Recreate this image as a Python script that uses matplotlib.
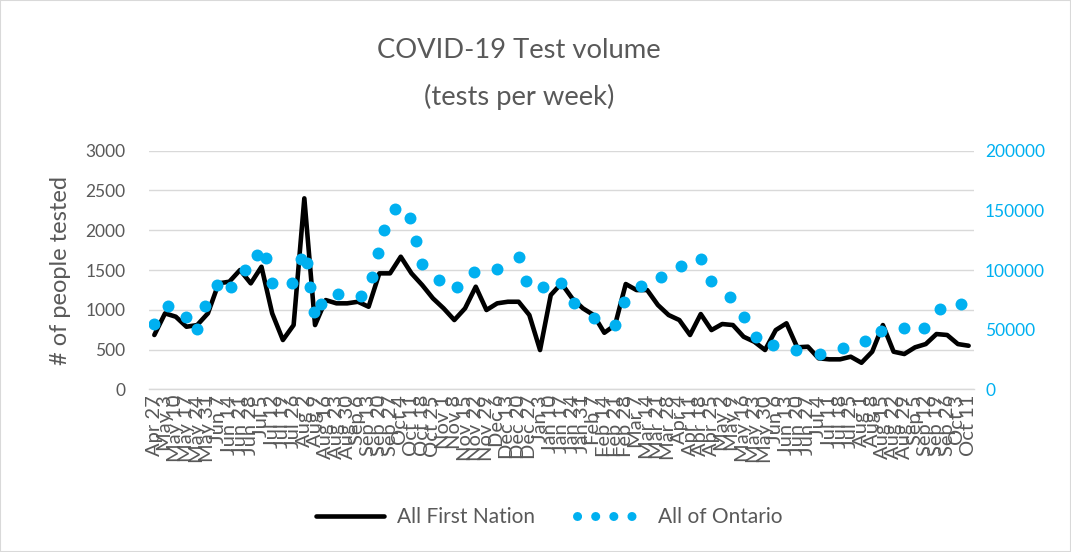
import matplotlib
matplotlib.use("Agg")
import matplotlib.pyplot as plt
import pandas as pd
from matplotlib.lines import Line2D
from matplotlib.patches import Rectangle

# ---------------- data ----------------
week_labels = [
    "Apr 27", "May 3", "May 10", "May 17", "May 24", "May 31", "Jun 7", "Jun 14",
    "Jun 21", "Jun 28", "Jul 5", "Jul 12", "Jul 19", "Jul 26", "Aug 2", "Aug 9",
    "Aug 16", "Aug 23", "Aug 30", "Sep 6", "Sep 13", "Sep 20", "Sep 27", "Oct 4",
    "Oct 11", "Oct 18", "Oct 25", "Nov 1", "Nov 8", "Nov 15", "Nov 22", "Nov 29",
    "Dec 6", "Dec 13", "Dec 20", "Dec 27", "Jan 3", "Jan 10", "Jan 17", "Jan 24",
    "Jan 31", "Feb 7", "Feb 14", "Feb 21", "Feb 28", "Mar 7", "Mar 14", "Mar 21",
    "Mar 28", "Apr 4", "Apr 11", "Apr 18", "Apr 25", "May 2", "May 9", "May 16",
    "May 23", "May 30", "Jun 6", "Jun 13", "Jun 20", "Jun 27", "Jul 4", "Jul 11",
    "Jul 18", "Jul 25", "Aug 1", "Aug 8", "Aug 15", "Aug 22", "Aug 29", "Sep 5",
    "Sep 12", "Sep 19", "Sep 26", "Oct 3", "Oct 11",
]

first_nation = [
    683, 955, 913, 787, 808, 955, 1332, 1353, 1500, 1332,
    1541, 955, 620, 808, 2401, 808, 1122, 1081, 1081, 1101,
    1038, 1458, 1458, 1667, 1458, 1311, 1144, 1018, 871, 1018,
    1290, 997, 1081, 1101, 1101, 934, 494, 1185, 1332, 1144,
    1018, 934, 711, 808, 1324, 1248, 1248, 1060, 934, 871,
    683, 946, 745, 821, 808, 661, 598, 494, 745, 830,
    528, 536, 390, 377, 377, 410, 334, 473, 808, 473,
    444, 528, 569, 695, 683, 569, 548,
]

series_start = "2020-04-27"

ontario_dates = [
    "2020-04-27", "2020-05-06", "2020-05-18", "2020-05-25", "2020-05-30", "2020-06-07",
    "2020-06-16", "2020-06-25", "2020-07-03", "2020-07-09", "2020-07-13", "2020-07-26",
    "2020-08-01", "2020-08-05", "2020-08-07", "2020-08-09", "2020-08-14", "2020-08-25",
    "2020-09-09", "2020-09-16", "2020-09-20", "2020-09-24", "2020-10-01", "2020-10-11",
    "2020-10-15", "2020-10-19", "2020-10-30", "2020-11-11", "2020-11-22", "2020-12-07",
    "2020-12-21", "2020-12-26", "2021-01-06", "2021-01-18", "2021-01-26", "2021-02-08",
    "2021-02-22", "2021-02-28", "2021-03-11", "2021-03-24", "2021-04-06", "2021-04-19",
    "2021-04-26", "2021-05-08", "2021-05-17", "2021-05-25", "2021-06-05", "2021-06-20",
    "2021-07-06", "2021-07-21", "2021-08-04", "2021-08-15", "2021-08-30", "2021-09-12",
    "2021-09-22", "2021-10-06",
]

ontario = [
    54500, 70000, 61000, 50500, 70000, 87500,
    86000, 100000, 112500, 110000, 89500, 89500,
    109000, 105500, 85500, 65000, 71500, 79500,
    78500, 94500, 114000, 133500, 151000, 144000,
    124500, 105000, 91500, 86000, 98500, 101000,
    110500, 91000, 86000, 89500, 72000, 60000,
    54000, 73000, 87000, 94500, 103500, 109000,
    91000, 77500, 60500, 43500, 37000, 33000,
    30000, 35000, 40500, 49000, 51500, 51500,
    67500, 71500,
]

left_ticks = [0, 500, 1000, 1500, 2000, 2500, 3000]
right_ticks = [0, 50000, 100000, 150000, 200000]

# ---------------- style ----------------
FONT = "Lato"
GRAY = "#595959"
BLUE = "#00B0F0"
GRID = "#D9D9D9"

plt.rcParams["font.family"] = [FONT, "DejaVu Sans"]

fig = plt.figure(figsize=(10.71, 5.52), dpi=100)
ax = fig.add_axes([0.1391, 0.2947, 0.7703, 0.4323])

xpos = list(range(len(week_labels)))
ax.plot(xpos, first_nation, color="black", lw=3.3, solid_joinstyle="round",
        solid_capstyle="round", zorder=3)
ax.set_xlim(-0.5, len(week_labels) - 0.5)
ax.set_ylim(left_ticks[0], left_ticks[-1])
ax.set_yticks(left_ticks)
ax.set_yticklabels([str(v) for v in left_ticks])
ax.yaxis.grid(True, color=GRID, lw=1.0)
ax.set_axisbelow(True)
for s in ["top", "left", "right"]:
    ax.spines[s].set_visible(False)
ax.spines["bottom"].set_color(GRID)
ax.spines["bottom"].set_linewidth(1.0)
ax.set_xticks(xpos)
ax.set_xticklabels(week_labels, rotation=90, fontsize=14.5, color=GRAY)
ax.tick_params(axis="x", length=0, pad=4)
ax.tick_params(axis="y", length=0, pad=17, labelsize=12.5, labelcolor=GRAY)
ax.set_ylabel("# of people tested", fontsize=17, color=GRAY, labelpad=10)

ax2 = ax.twinx()
ont_x = (pd.to_datetime(ontario_dates) - pd.Timestamp(series_start)).days / 7.0
ax2.plot(ont_x, ontario, linestyle="none", marker="o", ms=8.6,
         color=BLUE, markeredgewidth=0, zorder=4)
ax2.set_ylim(right_ticks[0], right_ticks[-1])
ax2.set_yticks(right_ticks)
ax2.set_yticklabels([str(v) for v in right_ticks])
ax2.tick_params(axis="y", length=0, pad=8, labelsize=12.5, labelcolor=BLUE)
for s in ["top", "left", "right", "bottom"]:
    ax2.spines[s].set_visible(False)

fig.text(0.4846, 1 - 50 / 552, "COVID-19 Test volume", ha="center", va="center",
         fontsize=19.7, color=GRAY)
fig.text(0.4846, 1 - 97 / 552, "(tests per week)", ha="center", va="center",
         fontsize=19.7, color=GRAY)

handles = [
    Line2D([], [], color="black", lw=3.3, solid_capstyle="round"),
    Line2D([], [], color=BLUE, lw=6.5, linestyle=(0, (0.01, 2.0)),
           dash_capstyle="round"),
]
fig.legend(handles, ["All First Nation", "All of Ontario"], loc="center",
           bbox_to_anchor=(549 / 1071, 1 - 517 / 552), ncol=2, frameon=False,
           fontsize=15, labelcolor=GRAY, handlelength=3.3, columnspacing=2.0,
           handletextpad=0.6)

fig.patches.append(Rectangle((0, 0), 1, 1, transform=fig.transFigure, fill=False,
                             edgecolor=GRID, lw=1.5))

fig.savefig("out.png", dpi=100)
